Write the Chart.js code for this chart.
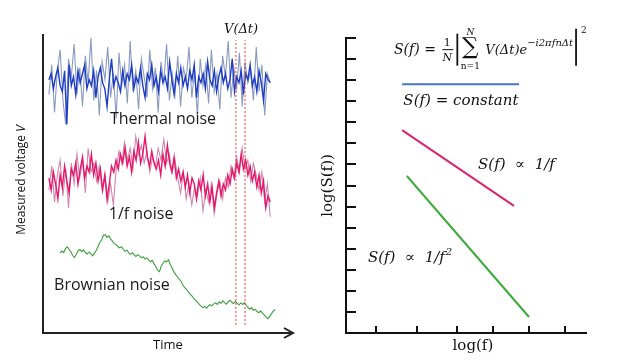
<!DOCTYPE html>
<html>
<head>
<meta charset="utf-8">
<script src="https://cdn.jsdelivr.net/npm/chart.js@4.4.0/dist/chart.umd.min.js"></script>
<style>
  html,body{margin:0;padding:0;background:#fff;}
  #wrap{position:relative;width:636px;height:360px;overflow:hidden;}
  .box{position:absolute;top:0;height:360px;}
  #left{left:0;width:320px;}
  #right{left:320px;width:316px;}
</style>
</head>
<body>
<div id="wrap">
  <div class="box" id="left"><canvas id="noiseChart"></canvas></div>
  <div class="box" id="right"><canvas id="spectrumChart"></canvas></div>
</div>
<script>
// ===== Data: time traces (arbitrary voltage units, time 0..100) =====
const thermalLight = [
  80, 90, 74, 88, 95, 78, 70, 92, 86, 97, 80, 89, 76, 93, 84, 99, 78, 88, 73, 91,
  85, 96, 79, 87, 72, 94, 83, 90, 77, 98, 81, 88, 75, 92, 86, 79, 95, 82, 89, 74,
  91, 84, 97, 78, 87, 80, 93, 76, 89, 85, 96, 79, 88, 73, 92, 83, 90, 77, 95, 81,
  87, 75, 93, 86, 98, 79, 89, 82, 94, 76, 91, 84, 88, 78, 96, 81, 90, 73, 87, 84
];
const thermalDark = [
  85, 87, 82, 86, 89, 83, 81, 88, 70, 90, 83, 86, 80, 88, 84, 87, 90, 82, 85, 83,
  88, 79, 86, 89, 84, 82, 76, 85, 92, 83, 86, 84, 81, 88, 83, 87, 85, 90, 82, 86,
  84, 89, 83, 79, 87, 85, 90, 83, 86, 81, 88, 84, 86, 82, 91, 85, 80, 87, 84, 89,
  83, 86, 82, 88, 85, 90, 79, 86, 84, 87, 82, 91, 85, 83, 88, 81, 86, 89, 84, 87,
  82, 85, 92, 81, 86, 84, 88, 80, 87, 85, 90, 83, 86, 81, 88, 84, 78, 87, 85, 84
];
const pinkLight = [
  48, 56, 44, 53, 58, 46, 55, 42, 57,
  50, 60, 52, 58, 47, 62, 54, 57, 51,
  56, 48, 53, 44, 50, 43,
  55, 61, 57, 64, 58, 62, 55, 66, 60, 63, 57, 61, 54, 59, 56, 62, 58, 65, 57, 60, 54, 58,
  52, 47, 54, 45, 50, 43, 49, 46, 52, 41, 48, 44, 50, 40, 47, 51, 45, 52,
  49, 56, 52, 59, 54, 62, 55, 58, 51, 57, 53,
  48, 54, 44, 50, 39
];
const pinkDark = [
  52, 48, 54, 50, 45, 53, 49, 56, 51, 47, 55,
  53, 57, 50, 55, 59, 52, 56, 54, 60, 53, 57,
  51, 55, 48, 53, 45, 50, 56, 54, 58, 55, 60,
  57, 62, 56, 59, 54, 61, 58, 64, 57, 60, 66, 59, 56, 61, 57, 55,
  58, 53, 60, 56, 63, 57, 54, 59, 52, 55,
  51, 54, 49, 53, 47, 52, 50, 45, 51, 48, 53, 46, 50, 44, 49, 42, 47, 51, 46, 50, 48, 53,
  50, 55, 52, 57, 54, 60, 55, 58, 53, 56, 51, 54,
  49, 53, 47, 51, 42, 46, 44
];
const brownian = [
  26.8, 27.5, 27.0, 28.3, 28.9, 28.1, 27.2, 26.0, 25.3, 26.4, 27.6,
  28.0, 27.3, 27.9, 27.0, 26.5, 27.2, 26.6, 25.9, 26.8, 27.7,
  29.0, 30.4, 31.2, 32.8, 33.0, 32.1, 32.6, 31.5, 30.8, 30.0,
  29.6, 29.0, 28.6, 28.9, 28.1, 27.4, 27.8, 27.0, 26.4, 26.9, 26.2, 25.7, 26.3, 25.8, 25.2,
  25.6, 24.8, 25.2, 24.5, 23.9, 24.4, 23.2, 22.3, 21.0, 20.6,
  22.5, 23.5, 24.2, 23.9, 24.6, 23.0, 21.8,
  20.5, 19.6, 18.8, 18.0, 17.3, 16.0, 15.2, 14.6, 13.8, 13.0, 12.4, 11.5, 11.0,
  10.4, 9.6, 9.0, 8.5, 8.9, 8.3, 9.0, 9.5, 9.1, 9.8,
  10.2, 9.6, 10.4, 10.0, 10.8, 10.2, 9.7, 10.5, 11.0, 10.3, 9.9, 10.6, 10.0, 9.4, 10.1,
  9.6, 10.2, 9.3, 8.6, 8.0, 8.5, 7.6, 7.9, 7.2, 6.8, 7.4, 6.6, 6.0,
  5.3, 4.8, 5.6, 6.5, 7.4, 7.9
];
// sampling windows along the time axis
const traceWindow = [2.4, 92];
const brownWindow = [6.9, 94];
const deltaTimes = [78.1, 81.8];     // the V(Δt) slice
const deltaLevels = [2.7, 98.3];

// ===== Data: spectrum, log-log (arbitrary units) =====
const logfTicks = [1, 2.35, 3.7, 4.9, 6.1, 7.3];
const whiteX = [1.87, 5.77], whiteY = [11.8, 11.8];
const flickerX = [1.87, 5.6], flickerY = [9.63, 6.03];
const brownX = [2.03, 6.1], brownY = [7.45, 0.76];

// ===== Helpers =====
const series = (vals, win) => vals.map((v,i)=>({ x: win[0] + (win[1]-win[0])*i/(vals.length-1), y: v }));
const pairs = (xs, ys) => xs.map((x,i)=>({ x, y: ys[i] }));
function txt(ctx, s, x, y, font, align='left', color='#111'){
  ctx.font = font; ctx.textAlign = align; ctx.textBaseline = 'middle'; ctx.fillStyle = color;
  ctx.fillText(s, x, y);
  return ctx.measureText(s).width;
}
const SERIF_I = 'italic 15px "DejaVu Serif"';
const bareAxis = (min, max, color, extra={}) => ({
  type:'linear', min, max,
  ticks:{ display:false, ...(extra.ticks||{}) },
  grid:{ display:false, drawTicks:false },
  border:{ display:true, color, width:2 },
  ...(extra.hooks||{})
});

// ===== Left: noise traces =====
const noiseDecor = {
  id:'noiseDecor',
  afterDraw(chart){
    const { ctx, chartArea:a, scales:{ x, y } } = chart;
    ctx.save();
    // arrow on time axis
    ctx.strokeStyle = '#222'; ctx.lineWidth = 2;
    ctx.beginPath(); ctx.moveTo(a.right-1, a.bottom); ctx.lineTo(a.right+3, a.bottom); ctx.stroke();
    ctx.beginPath(); ctx.moveTo(a.right-6, a.bottom-5); ctx.lineTo(a.right+3, a.bottom); ctx.lineTo(a.right-6, a.bottom+5); ctx.stroke();

    const sans = '16px "Open Sans"';
    txt(ctx, 'Thermal noise', x.getPixelForValue(48.6), y.getPixelForValue(71.8), sans, 'center', '#1a1a1a');
    txt(ctx, '1/f noise', x.getPixelForValue(39.7), y.getPixelForValue(39.9), sans, 'center', '#1a1a1a');
    txt(ctx, 'Brownian noise', x.getPixelForValue(27.9), y.getPixelForValue(16.1), sans, 'center', '#1a1a1a');
    txt(ctx, 'Time', x.getPixelForValue(50.6), a.bottom + 12, '13px "Open Sans"', 'center');
    txt(ctx, 'V(Δt)', x.getPixelForValue(80.2), a.top - 5, 'italic 13px "DejaVu Serif"', 'center');

    // rotated y title
    ctx.translate(22, 180); ctx.rotate(-Math.PI/2);
    const f1 = '12px "Liberation Sans Narrow", "Open Sans"', f2 = 'italic 12px "Liberation Sans Narrow", "Open Sans"';
    ctx.font = f1; const w1 = ctx.measureText('Measured voltage ').width;
    ctx.font = f2; const w2 = ctx.measureText('V').width;
    const x0 = -(w1+w2)/2;
    txt(ctx, 'Measured voltage ', x0, 0, f1);
    txt(ctx, 'V', x0 + w1, 0, f2);
    ctx.restore();
  }
};

new Chart(document.getElementById('noiseChart'), {
  type:'line',
  data:{ datasets:[
    { data: pairs([deltaTimes[0], deltaTimes[0]], deltaLevels), borderColor:'#f03a3a', borderWidth:1, borderDash:[2,2] },
    { data: pairs([deltaTimes[1], deltaTimes[1]], deltaLevels), borderColor:'#f03a3a', borderWidth:1, borderDash:[2,2] },
    { data: series(thermalDark, traceWindow), borderColor:'#1e3cc4', borderWidth:1.4 },
    { data: series(thermalLight, traceWindow), borderColor:'#8a9abf', borderWidth:1.1 },
    { data: series(pinkDark, traceWindow), borderColor:'#e6166a', borderWidth:1.4 },
    { data: series(pinkLight, traceWindow), borderColor:'#cf86ac', borderWidth:1.1 },
    { data: series(brownian, brownWindow), borderColor:'#3c9e3c', borderWidth:1.1 }
  ]},
  options:{
    responsive:true, maintainAspectRatio:false, animation:false,
    layout:{ padding:{ left:43, top:35, right:30, bottom:27 } },
    plugins:{ legend:{ display:false }, tooltip:{ enabled:false } },
    elements:{ point:{ radius:0 }, line:{ tension:0 } },
    scales:{
      x: bareAxis(0, 100, '#222'),
      y: bareAxis(0, 100, '#222')
    }
  },
  plugins:[noiseDecor]
});

// ===== Right: power spectra =====
const spectrumDecor = {
  id:'spectrumDecor',
  afterDraw(chart){
    const { ctx, chartArea:a, scales:{ x, y } } = chart;
    ctx.save();
    // inward tick marks
    ctx.strokeStyle = '#111'; ctx.lineWidth = 2;
    y.ticks.forEach(t=>{
      if (t.value === 0) return;
      const py = Math.round(y.getPixelForValue(t.value));
      ctx.beginPath(); ctx.moveTo(a.left, py); ctx.lineTo(a.left+10, py); ctx.stroke();
    });
    x.ticks.forEach(t=>{
      const px = Math.round(x.getPixelForValue(t.value));
      ctx.beginPath(); ctx.moveTo(px, a.bottom); ctx.lineTo(px, a.bottom-7); ctx.stroke();
    });

    // labels
    txt(ctx, 'S(f) = constant', x.getPixelForValue(3.83), y.getPixelForValue(11.0), SERIF_I, 'center');
    txt(ctx, 'S(f)  ∝  1/f', x.getPixelForValue(4.4), y.getPixelForValue(7.95), SERIF_I);
    let w = txt(ctx, 'S(f)  ∝  1/f', x.getPixelForValue(0.73), y.getPixelForValue(3.55), SERIF_I);
    txt(ctx, '2', x.getPixelForValue(0.73) + w + 1, y.getPixelForValue(3.55) - 6, 'italic 10px "DejaVu Serif"');
    txt(ctx, 'log(f)', x.getPixelForValue(4.23), a.bottom + 13, '15px "DejaVu Serif"', 'center');

    // formula
    let cx = x.getPixelForValue(1.6), cy = y.getPixelForValue(13.4);
    cx += txt(ctx, 'S(f) = ', cx, cy, 'italic 14px "DejaVu Serif"') + 2;
    txt(ctx, '1', cx + 5, cy - 8, '11px "DejaVu Serif"', 'center');
    txt(ctx, 'N', cx + 5, cy + 7, 'italic 11px "DejaVu Serif"', 'center');
    ctx.lineWidth = 1; ctx.beginPath(); ctx.moveTo(cx, cy - 1); ctx.lineTo(cx + 11, cy - 1); ctx.stroke();
    cx += 15;
    ctx.lineWidth = 1.8; ctx.beginPath(); ctx.moveTo(cx, cy - 17); ctx.lineTo(cx, cy + 15); ctx.stroke();
    cx += 3;
    txt(ctx, 'N', cx + 10, cy - 18, 'italic 9px "DejaVu Serif"', 'center');
    txt(ctx, 'n=1', cx + 10, cy + 16, '9px "DejaVu Serif"', 'center');
    txt(ctx, '∑', cx + 10, cy - 3, '23px "DejaVu Serif"', 'center');
    cx += 25;
    cx += txt(ctx, 'V(Δt)e', cx, cy, 'italic 13px "DejaVu Serif"');
    cx += txt(ctx, '−i2πfnΔt', cx, cy - 7, 'italic 10px "DejaVu Serif"') + 3;
    ctx.lineWidth = 1.8; ctx.beginPath(); ctx.moveTo(cx, cy - 22); ctx.lineTo(cx, cy + 15); ctx.stroke();
    txt(ctx, '2', cx + 5, cy - 20, '9px "DejaVu Serif"');

    // rotated y title
    ctx.translate(a.left - 18, y.getPixelForValue(7));
    ctx.rotate(-Math.PI/2);
    txt(ctx, 'log(S(f))', 0, 0, '15px "DejaVu Serif"', 'center');
    ctx.restore();
  }
};

new Chart(document.getElementById('spectrumChart'), {
  type:'line',
  data:{ datasets:[
    { data: pairs(whiteX, whiteY), borderColor:'#4a74c4', borderWidth:2 },
    { data: pairs(flickerX, flickerY), borderColor:'#d8266e', borderWidth:2 },
    { data: pairs(brownX, brownY), borderColor:'#3cab3c', borderWidth:2 }
  ]},
  options:{
    responsive:true, maintainAspectRatio:false, animation:false,
    layout:{ padding:{ left:26, top:38, right:50, bottom:27 } },
    plugins:{ legend:{ display:false }, tooltip:{ enabled:false } },
    elements:{ point:{ radius:0 }, line:{ tension:0 } },
    scales:{
      x: bareAxis(0, 8, '#111', { hooks:{ afterBuildTicks: s => { s.ticks = logfTicks.map(v=>({ value:v })); } } }),
      y: bareAxis(0, 14, '#111', { ticks:{ stepSize:1 } })
    }
  },
  plugins:[spectrumDecor]
});
</script>
</body>
</html>
